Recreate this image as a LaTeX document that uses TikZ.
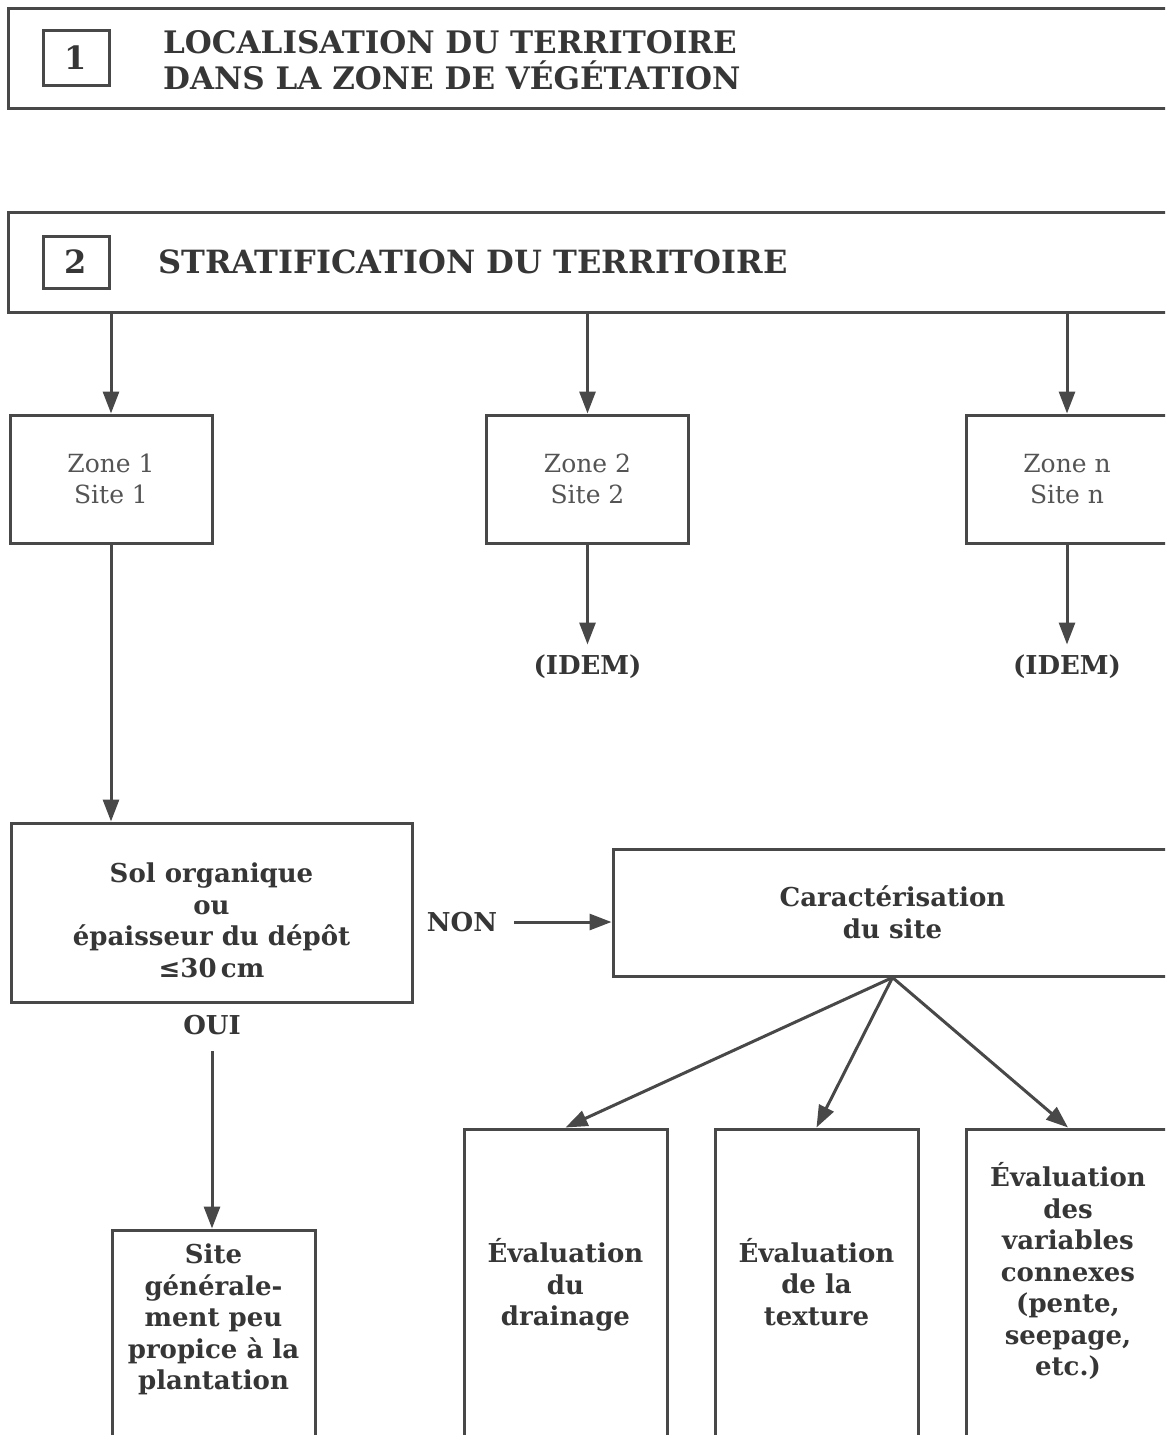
\documentclass[tikz,border=0pt]{standalone}
\usepackage{fontspec}
\setmainfont{DejaVu Serif}
\usetikzlibrary{arrows.meta,positioning}
\definecolor{ink}{HTML}{363636}
\definecolor{rule}{HTML}{484848}
\tikzset{
  box/.style={draw=rule, line width=3pt, inner sep=0pt, align=center, text=ink},
  numbox/.style={box, minimum width=66pt, font=\fontsize{32}{32}\selectfont\bfseries},
  head/.style={text=ink, anchor=west, align=left, inner sep=0pt, font=\fontsize{31}{36}\selectfont\bfseries},
  lab/.style={text=ink, inner sep=0pt, align=center, font=\fontsize{26}{31.5}\selectfont\bfseries},
  zonetxt/.style={box, minimum width=202pt, minimum height=128pt, text=ink!85, font=\fontsize{25}{31}\selectfont},
  flow/.style={draw=rule, line width=3pt, -{Triangle[length=22pt,width=16pt]}},
}
\begin{document}
\begin{tikzpicture}[x=1pt, y=-1pt]
  \useasboundingbox (0,0) rectangle (1165,1435);
  \clip (0,0) rectangle (1165,1435);

  % Steps 1 and 2
  \node[box, minimum width=1167pt, minimum height=100pt] (loc) at (591.5,58) {};
  \node[numbox, minimum height=55pt] (n1) at (76,58) {1};
  \node[head] (loctxt) at (163,60) {LOCALISATION DU TERRITOIRE\\DANS LA ZONE DE VÉGÉTATION};
  \node[box, minimum width=1167pt, minimum height=100pt] (strat) at (591.5,262) {};
  \node[numbox, minimum height=52pt] (n2) at (76,262) {2};
  \node[head, font=\fontsize{32}{36}\selectfont\bfseries] (strattxt) at (158,262) {STRATIFICATION DU TERRITOIRE};

  % Zones
  \node[zonetxt] (zone1) at (111,479) {Zone 1\\Site 1};
  \node[zonetxt] (zone2) at (587.5,479) {Zone 2\\Site 2};
  \node[zonetxt] (zonen) at (1067,479) {Zone n\\Site n};
  \node[lab, below=110pt of zone2] (idem2) {(IDEM)};
  \node[lab, below=110pt of zonen] (idemn) {(IDEM)};

  % Decision
  \node[box, minimum width=401pt, minimum height=179pt] (sol) at (211.5,912.5) {};
  \node[lab] at ([yshift=-8pt]sol.center) {Sol organique\\ou\\épaisseur du dépôt\\≤30\,cm};
  \node[lab] (oui) at (212,1025) {OUI};
  \node[lab] (non) at (462,922) {NON};
  \node[box, minimum width=559pt, minimum height=127pt, lab] (car) at (892.5,912.5)
    {Caractérisation\\du site};

  % Bottom row
  \node[box, minimum width=203pt, minimum height=215pt] (site) at (213.5,1337.5) {};
  \node[box, minimum width=203pt, minimum height=316pt] (drain) at (565.5,1287) {};
  \node[box, minimum width=203pt, minimum height=316pt] (textu) at (816.5,1287) {};
  \node[box, minimum width=203pt, minimum height=316pt] (vars) at (1068,1287) {};
  \node[lab] at ([yshift=18pt]site.center) {Site\\générale-\\ment peu\\propice à la\\plantation};
  \node[lab] at ([yshift=2pt]drain.center) {Évaluation\\du\\drainage};
  \node[lab] at ([yshift=5pt]textu.center) {Évaluation\\de la\\texture};
  \node[lab] at ([yshift=16pt]vars.center) {Évaluation\\des\\variables\\connexes\\(pente,\\seepage,\\etc.)};

  % Connections
  \foreach \z in {zone1,zone2,zonen}
    \draw[flow] (\z |- strat.south) -- (\z.north);
  \draw[flow, shorten >=10pt] (zone2) -- (idem2);
  \draw[flow, shorten >=10pt] (zonen) -- (idemn);
  \draw[flow] (zone1) -- (zone1 |- sol.north);
  \draw[flow, shorten <=16pt] (oui) -- (oui |- site.north);
  \draw[flow, shorten <=17pt] (non) -- (non -| car.west);
  \foreach \b in {drain,textu,vars}
    \draw[flow] (car.south) -- (\b.north);
\end{tikzpicture}
\end{document}
